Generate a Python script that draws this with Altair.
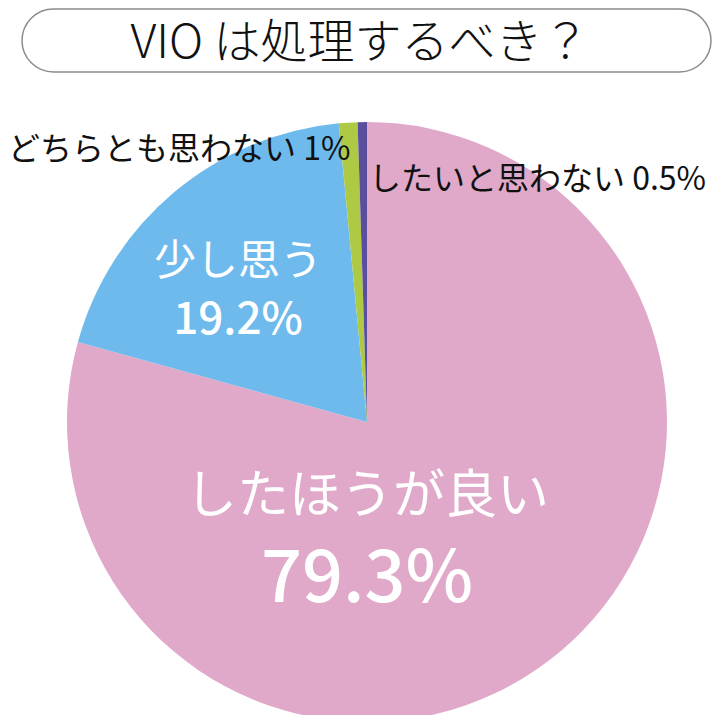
import altair as alt
import pandas as pd

# data
categories = ["したほうが良い", "少し思う", "どちらとも思わない", "したいと思わない"]
values = [79.3, 19.2, 1.0, 0.5]
colors = ["#E0A9C9", "#6FBAEC", "#AECA45", "#5B4F9D"]
title_text = "VIO は処理するべき？"

pie_df = pd.DataFrame({"cat": categories, "val": values, "ord": list(range(len(values)))})

W, H = 704, 707
CX, CY, R = 359, 414, 300

pie = alt.Chart(pie_df).mark_arc(stroke=None).encode(
    theta=alt.Theta("val:Q", stack=True),
    order=alt.Order("ord:Q"),
    color=alt.Color("cat:N", scale=alt.Scale(domain=categories, range=colors), legend=None),
    x=alt.value(CX), y=alt.value(CY), radius=alt.value(R),
)

# title box
box = alt.Chart(pd.DataFrame({"a": [0]})).mark_rect(
    fill="white", stroke="#8c8c8c", strokeWidth=1.5, cornerRadius=32
).encode(x=alt.value(14), x2=alt.value(703), y=alt.value(1), y2=alt.value(64))

title = alt.Chart(pd.DataFrame({"t": [title_text]})).mark_text(
    font="Noto Sans CJK JP", fontSize=47, fontWeight=300, color="#111", baseline="middle", align="center"
).encode(text="t:N", x=alt.value(352), y=alt.value(36))

# labels (positions kept separate from data)
label_text = [
    "どちらとも思わない 1%",
    "したいと思わない 0.5%",
    "少し思う",
    "19.2%",
    "したほうが良い",
    "79.3%",
]
label_x = [0, 361, 230, 230, 359, 359]
label_y = [142, 172, 254, 313, 489, 572]
label_align = ["left", "left", "center", "center", "center", "center"]
label_size = [32, 32, 42, 44, 52, 72]
label_color = ["#111", "#111", "white", "white", "white", "white"]
label_weight = [400, 400, 400, 500, 400, 500]

layers = [pie, box, title]
for t, x, y, a, s, c, w in zip(label_text, label_x, label_y, label_align, label_size, label_color, label_weight):
    layers.append(
        alt.Chart(pd.DataFrame({"t": [t]})).mark_text(
            font="Noto Sans CJK JP", fontSize=s, fontWeight=w, color=c, align=a, baseline="middle"
        ).encode(text="t:N", x=alt.value(x), y=alt.value(y))
    )

chart = alt.layer(*layers).properties(
    width=W, height=H, autosize=alt.AutoSizeParams(type="none"), padding=0
).configure_view(stroke=None)

chart.save("out.html", embed_options={"renderer": "svg", "actions": False})
